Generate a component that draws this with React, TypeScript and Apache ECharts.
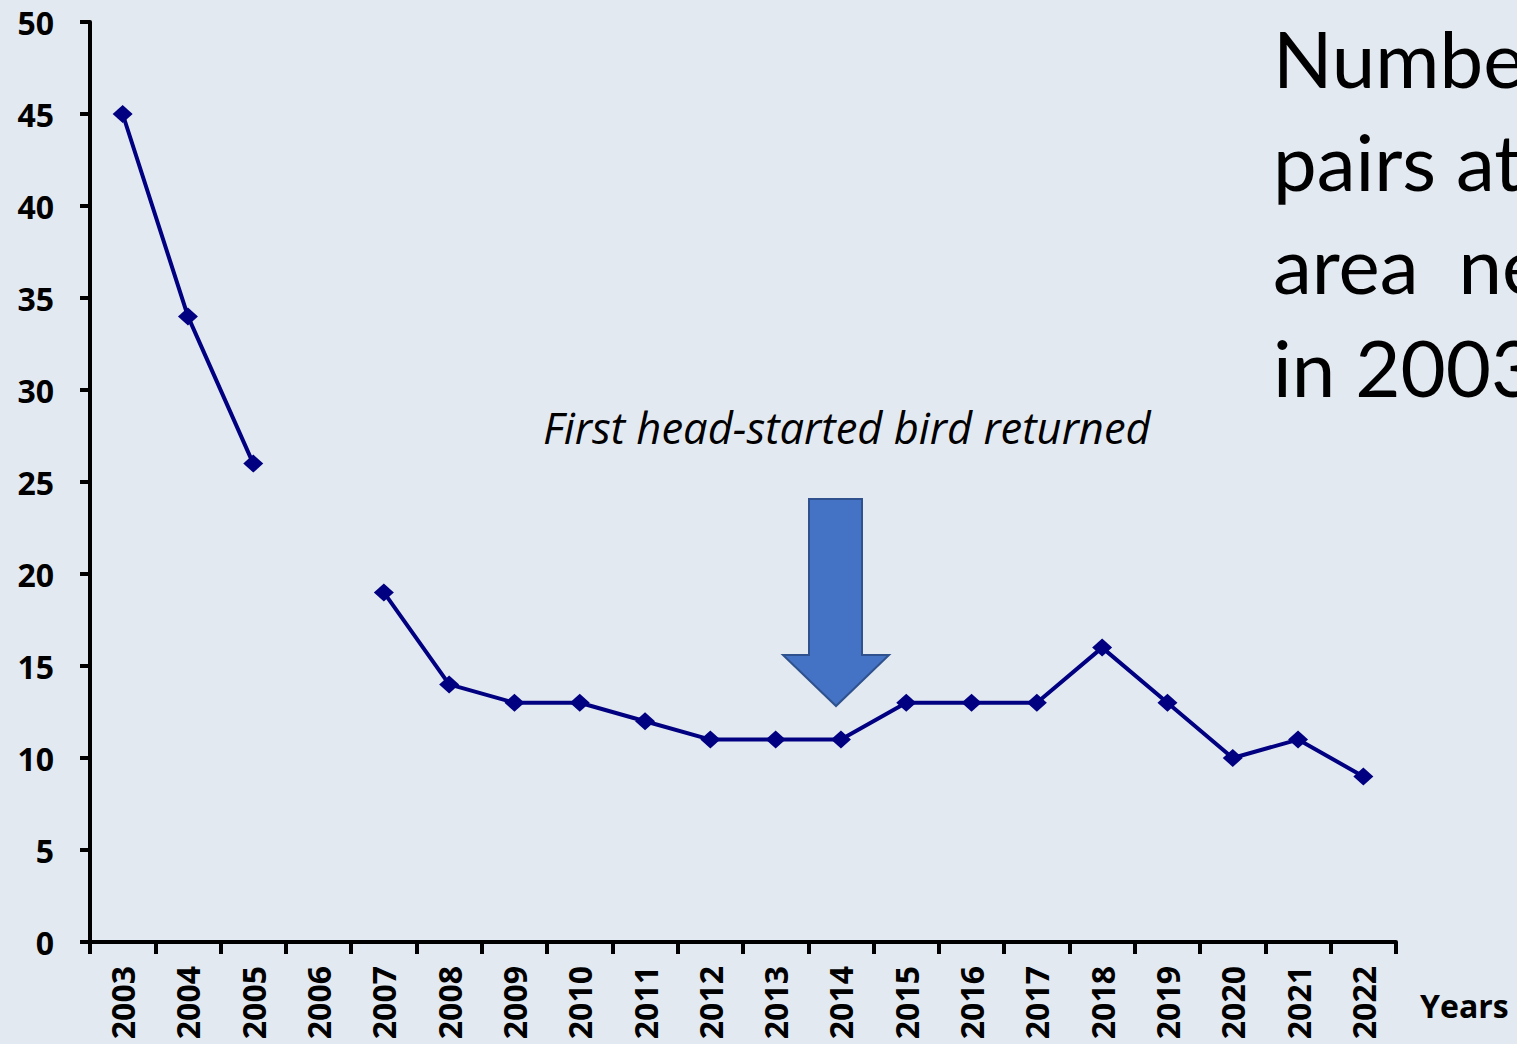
import React, { useEffect, useRef } from "react";
import * as echarts from "echarts";

const years = ["2003","2004","2005","2006","2007","2008","2009","2010","2011","2012","2013","2014","2015","2016","2017","2018","2019","2020","2021","2022"];
const pairs: (number | null)[] = [45, 34, 26, null, 19, 14, 13, 13, 12, 11, 11, 11, 13, 13, 13, 16, 13, 10, 11, 9];
const titleLines = ["Number of", "pairs at the", "area  near", "in 2003"];
const annotation = "First head-started bird returned";

export default function App() {
  const ref = useRef<HTMLDivElement>(null);
  useEffect(() => {
    document.body.style.margin = "0";
    const chart = echarts.init(ref.current!, null, { renderer: "svg" });
    const font = "Lato, 'Open Sans', sans-serif";
    const boldFont = "'Open Sans', Lato, sans-serif";
    chart.setOption({
      animation: false,
      backgroundColor: "#e3e9f0",
      grid: { left: 90, right: 121, top: 22, bottom: 102, containLabel: false },
      xAxis: {
        type: "category",
        data: years,
        boundaryGap: true,
        axisLine: { lineStyle: { color: "#000", width: 4 } },
        axisTick: { show: true, alignWithLabel: false, length: 12, lineStyle: { color: "#000", width: 4 } },
        axisLabel: { rotate: 90, margin: 24, color: "#000", fontFamily: boldFont, fontWeight: "bold", fontSize: 32, interval: 0 },
        splitLine: { show: false },
      },
      yAxis: {
        type: "value",
        min: 0,
        max: 50,
        interval: 5,
        axisLine: { show: true, lineStyle: { color: "#000", width: 4 } },
        axisTick: { show: true, length: 10, lineStyle: { color: "#000", width: 4 } },
        axisLabel: { margin: 36, color: "#000", fontFamily: boldFont, fontWeight: "bold", fontSize: 32 },
        splitLine: { show: false },
      },
      series: [
        {
          type: "line",
          data: pairs,
          connectNulls: false,
          lineStyle: { color: "#000080", width: 4 },
          itemStyle: { color: "#000080" },
          symbol: "diamond",
          symbolSize: [20, 18],
          showSymbol: true,
        },
      ],
      graphic: [
        {
          type: "polygon",
          shape: {
            points: [[809, 499], [862, 499], [862, 655], [889, 655], [836, 706], [783, 655], [809, 655]],
          },
          style: { fill: "#4472c4", stroke: "#2f528f", lineWidth: 2 },
        },
        {
          type: "text",
          left: 543,
          top: 405,
          style: { text: annotation, fill: "#000", font: `italic 43.5px 'Open Sans', sans-serif` },
        },
        {
          type: "text",
          left: 1420,
          top: 989,
          style: { text: "Years", fill: "#000", font: `bold 32px ${boldFont}` },
        },
        {
          type: "text",
          x: 1273,
          y: 6,
          style: { text: titleLines.join("\n"), fill: "#000", font: `78px ${font}`, lineHeight: 103 },
        },
      ],
    });
    return () => chart.dispose();
  }, []);
  return <div ref={ref} style={{ position: "absolute", left: 0, top: 0, width: 1517, height: 1044 }} />;
}
